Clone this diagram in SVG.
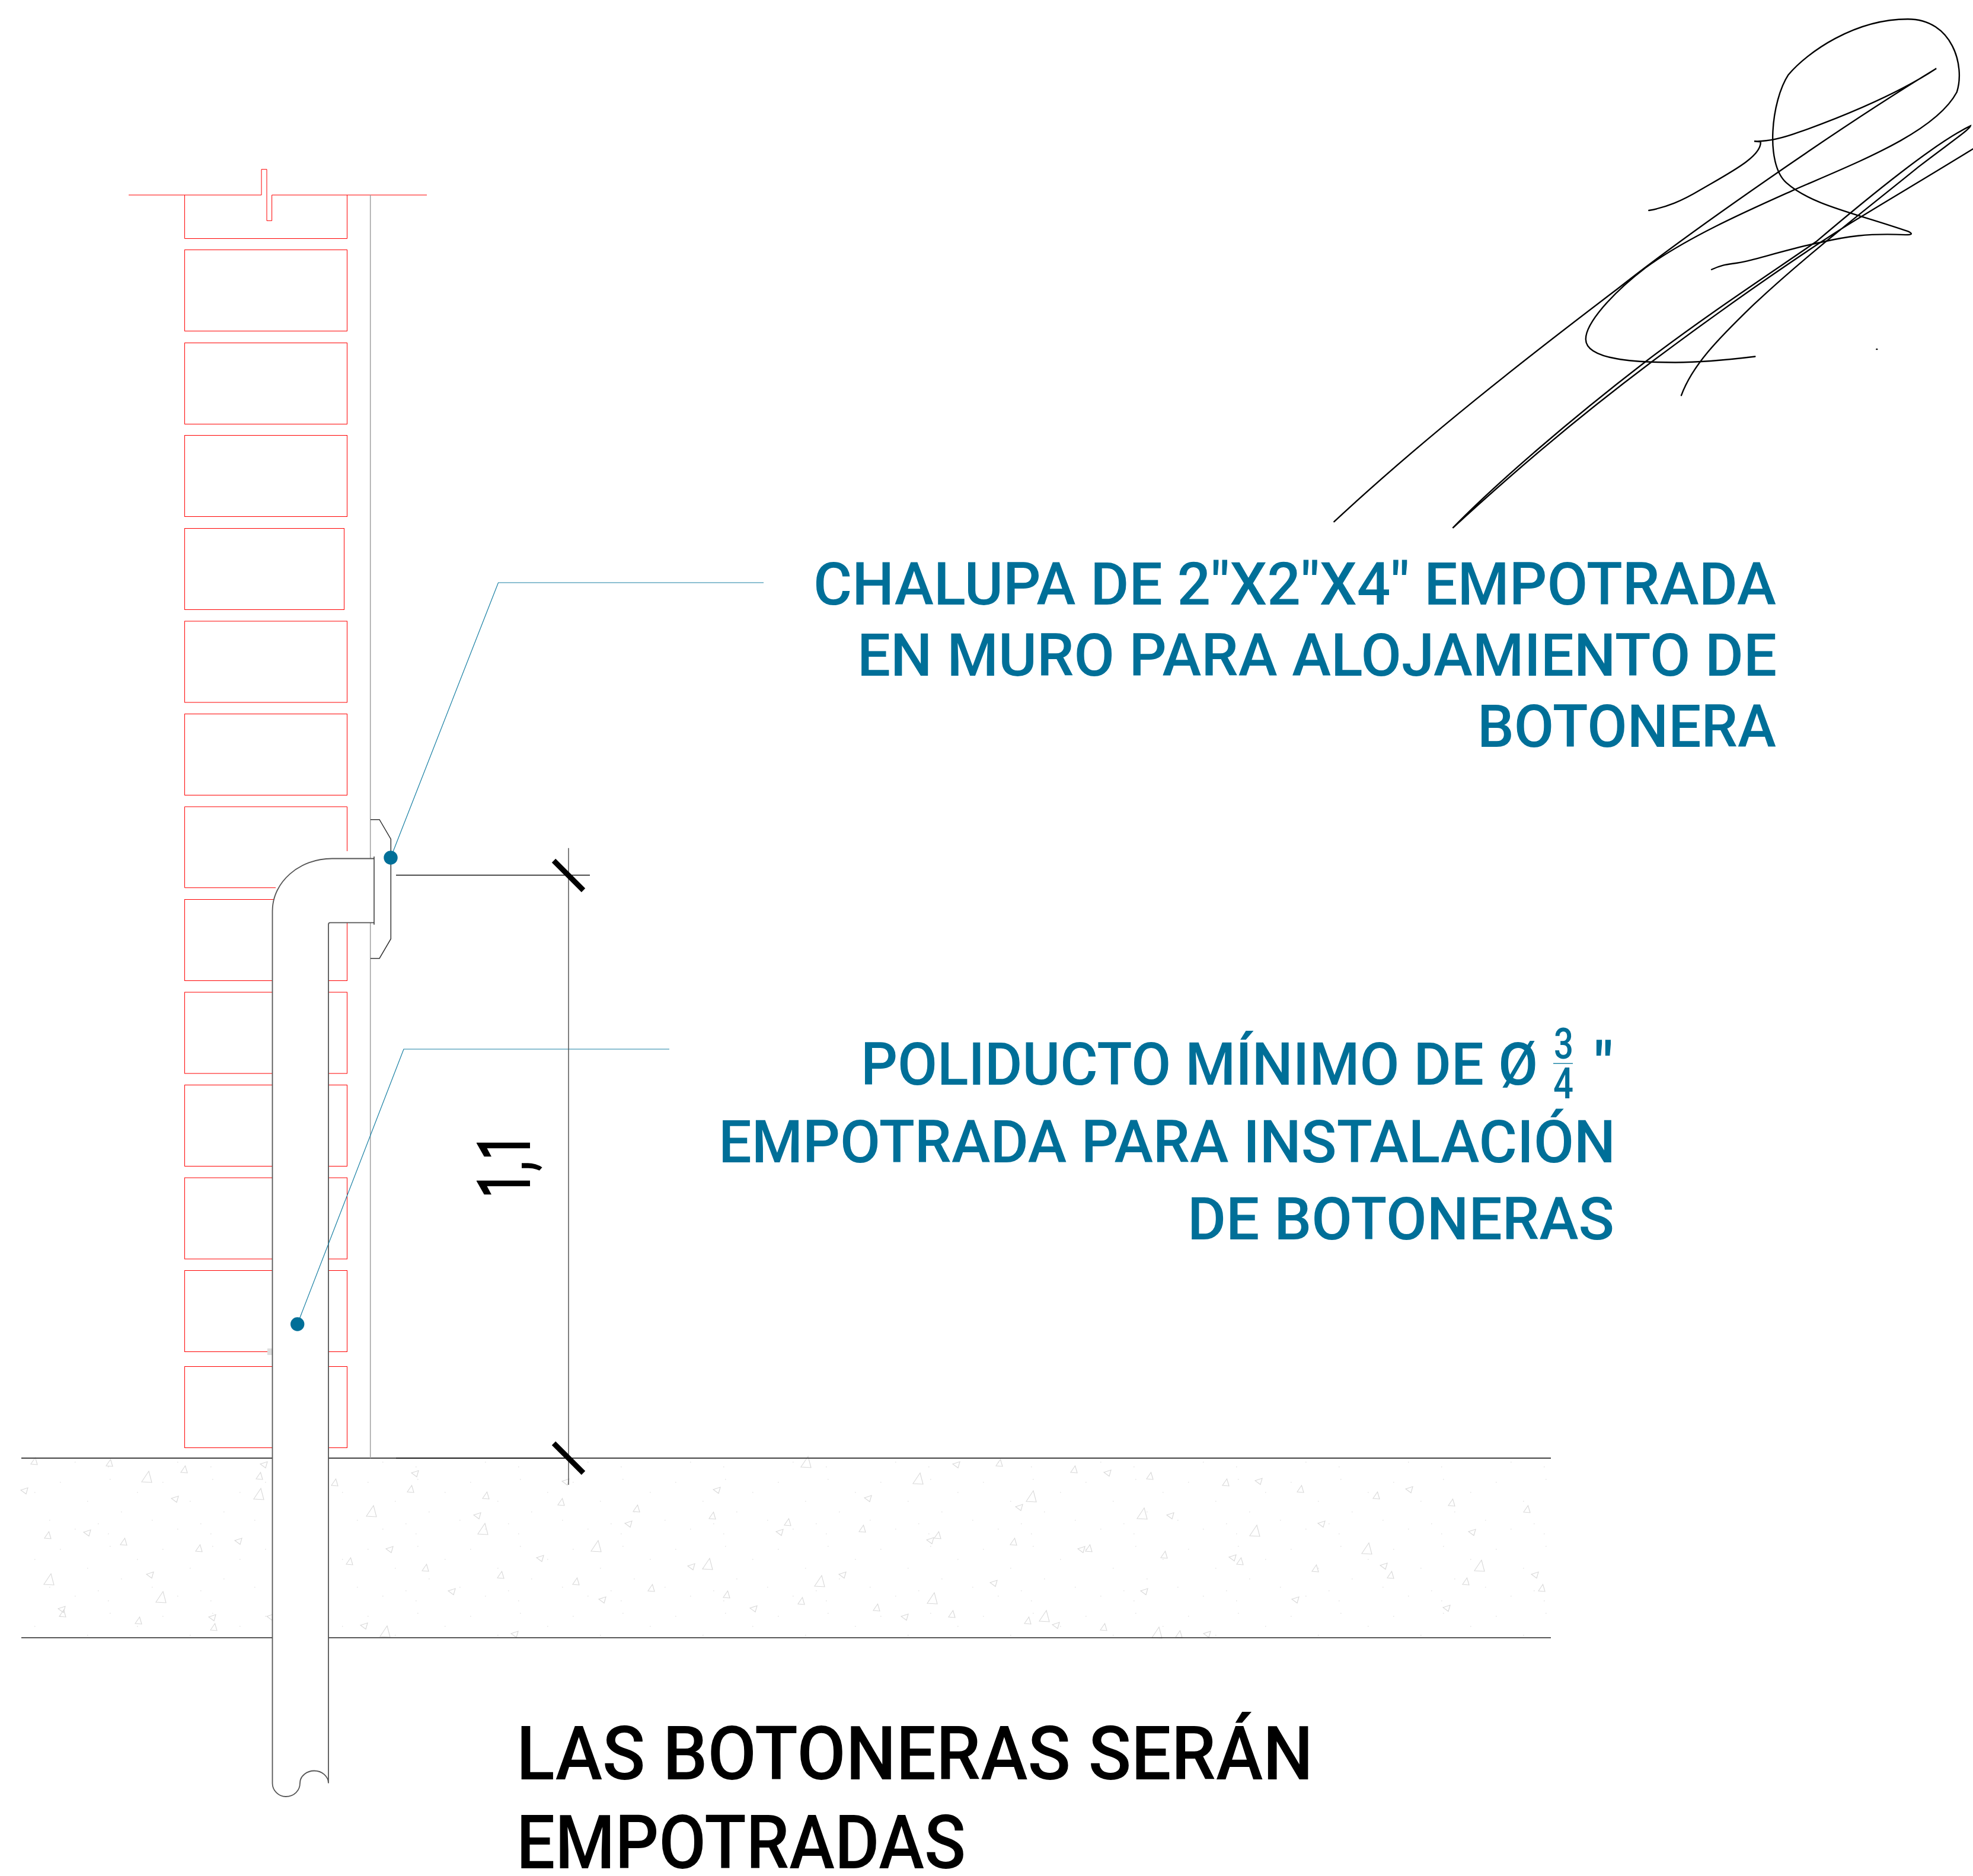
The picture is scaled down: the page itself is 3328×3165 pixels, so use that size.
<svg xmlns="http://www.w3.org/2000/svg" width="3328" height="3165" viewBox="0 0 3328 3165">
<style>
.red{fill:none;stroke:#ff0000;stroke-width:1}
.wall{fill:none;stroke:#a0a0a0;stroke-width:1.5}
.dark{fill:none;stroke:#333;stroke-width:1.5}
.pipe{fill:#fff;stroke:#555;stroke-width:1.8}
.hatch{fill:none;stroke:#d8d8d8;stroke-width:1.1}
.lead{fill:none;stroke:#1a80a4;stroke-width:1.2}
.dim{fill:none;stroke:#555;stroke-width:1.5}
.tick{stroke:#000;stroke-width:9;fill:none}
.dot{fill:#006f98}
.sig{fill:none;stroke:#000;stroke-width:2.4;vector-effect:non-scaling-stroke;stroke-linecap:round}
.t{font-family:"Roboto","Liberation Sans",sans-serif;font-size:100px;font-weight:500;fill:#006f98}
.b{font-family:"Roboto","Liberation Sans",sans-serif;font-size:126px;font-weight:500;fill:#000}
</style>
<defs>
<polygon id="a" class="hatch" points="2.5,-6 -5,5 6,6"/>
<polygon id="A" class="hatch" points="4,-10 -8,8 9,9"/>
<polygon id="c" class="hatch" points="-6,-1 6,-5 3,5.5"/>
<pattern id="specks" width="173" height="113" patternUnits="userSpaceOnUse">
<g fill="#e4e4e4"><rect x="12" y="9" width="1.5" height="1.5"/><rect x="58" y="31" width="1.5" height="1.5"/><rect x="101" y="14" width="1.5" height="1.5"/><rect x="147" y="46" width="1.5" height="1.5"/><rect x="31" y="64" width="1.5" height="1.5"/><rect x="83" y="78" width="1.5" height="1.5"/><rect x="126" y="93" width="1.5" height="1.5"/><rect x="9" y="101" width="1.5" height="1.5"/><rect x="165" y="84" width="1.5" height="1.5"/></g>
</pattern>
</defs>
<rect width="3328" height="3165" fill="#fff"/>

<g id="wall-bricks">
<path class="red" d="M217 329H441V285.7H450V372.3H458.6V329H720"/>
<path class="red" d="M311.5 329V402.5H585.5V329"/>
<rect class="red" x="311.5" y="421.5" width="274" height="137"/>
<rect class="red" x="311.5" y="578.5" width="274" height="137"/>
<rect class="red" x="311.5" y="734.5" width="274" height="137"/>
<rect class="red" x="311.5" y="891.5" width="269" height="137"/>
<rect class="red" x="311.5" y="1048" width="274" height="137"/>
<rect class="red" x="311.5" y="1204.5" width="274" height="137"/>
<path class="red" d="M585.5 1436V1361H311.5V1497.7H465"/>
<rect class="red" x="311.5" y="1517.5" width="274" height="137"/>
<rect class="red" x="311.5" y="1674" width="274" height="137"/>
<rect class="red" x="311.5" y="1830.5" width="274" height="137"/>
<rect class="red" x="311.5" y="1987" width="274" height="137"/>
<rect class="red" x="311.5" y="2143.5" width="274" height="137"/>
<rect class="red" x="311.5" y="2305.5" width="274" height="137"/>
<rect x="451" y="2275" width="8" height="11" fill="#dedede"/>
</g>

<g id="floor-slab">
<rect x="36" y="2461" width="2580" height="302" fill="url(#specks)"/>
<use href="#a" x="57" y="2465"/><use href="#a" x="184" y="2468"/><use href="#a" x="310" y="2479"/><use href="#a" x="437" y="2490"/><use href="#a" x="564" y="2501"/><use href="#a" x="692" y="2512"/><use href="#a" x="819" y="2523"/><use href="#a" x="946" y="2534"/><use href="#a" x="80" y="2590"/><use href="#a" x="208" y="2601"/><use href="#a" x="335" y="2612"/><use href="#a" x="589" y="2634"/><use href="#a" x="717" y="2645"/><use href="#a" x="844" y="2657"/><use href="#a" x="971" y="2668"/><use href="#a" x="105" y="2722"/><use href="#a" x="233" y="2734"/><use href="#a" x="360" y="2745"/>
<use href="#A" x="247" y="2492"/><use href="#A" x="436" y="2521"/><use href="#A" x="626" y="2550"/><use href="#A" x="814" y="2580"/><use href="#A" x="82" y="2665"/><use href="#A" x="271" y="2695"/><use href="#A" x="649" y="2753"/>
<use href="#c" x="445" y="2471"/><use href="#c" x="700" y="2486"/><use href="#c" x="41" y="2515"/><use href="#c" x="295" y="2529"/><use href="#c" x="805" y="2557"/><use href="#c" x="147" y="2586"/><use href="#c" x="402" y="2600"/><use href="#c" x="657" y="2614"/><use href="#c" x="911" y="2629"/><use href="#c" x="253" y="2657"/><use href="#c" x="762" y="2685"/><use href="#c" x="104" y="2715"/><use href="#c" x="358" y="2729"/><use href="#c" x="614" y="2743"/><use href="#c" x="868" y="2757"/><use href="#c" x="954" y="2500"/><use href="#c" x="456" y="2728"/>
<use href="#a" x="1685" y="2468"/><use href="#a" x="1811" y="2479"/><use href="#a" x="1939" y="2490"/><use href="#a" x="2067" y="2501"/><use href="#a" x="2193" y="2512"/><use href="#a" x="2321" y="2523"/><use href="#a" x="2448" y="2535"/><use href="#a" x="2575" y="2546"/><use href="#a" x="1073" y="2545"/><use href="#a" x="1201" y="2557"/><use href="#a" x="1328" y="2568"/><use href="#a" x="1454" y="2579"/><use href="#a" x="1581" y="2590"/><use href="#a" x="1709" y="2601"/><use href="#a" x="1836" y="2612"/><use href="#a" x="1963" y="2623"/><use href="#a" x="2091" y="2634"/><use href="#a" x="2218" y="2646"/><use href="#a" x="2345" y="2657"/><use href="#a" x="2472" y="2668"/><use href="#a" x="2600" y="2679"/><use href="#a" x="1098" y="2679"/><use href="#a" x="1225" y="2690"/><use href="#a" x="1351" y="2701"/><use href="#a" x="1478" y="2712"/><use href="#a" x="1605" y="2723"/><use href="#a" x="1733" y="2734"/><use href="#a" x="1861" y="2745"/><use href="#a" x="1988" y="2757"/>
<use href="#A" x="1359" y="2467"/><use href="#A" x="1548" y="2495"/><use href="#A" x="1739" y="2525"/><use href="#A" x="1926" y="2554"/><use href="#A" x="2116" y="2583"/><use href="#A" x="2305" y="2613"/><use href="#A" x="2495" y="2642"/><use href="#A" x="1005" y="2609"/><use href="#A" x="1193" y="2639"/><use href="#A" x="1382" y="2668"/><use href="#A" x="1572" y="2697"/><use href="#A" x="1761" y="2727"/><use href="#A" x="1951" y="2755"/>
<use href="#c" x="1613" y="2471"/><use href="#c" x="1868" y="2485"/><use href="#c" x="2123" y="2499"/><use href="#c" x="2377" y="2513"/><use href="#c" x="1209" y="2514"/><use href="#c" x="1464" y="2528"/><use href="#c" x="1719" y="2543"/><use href="#c" x="1974" y="2557"/><use href="#c" x="2229" y="2571"/><use href="#c" x="2483" y="2585"/><use href="#c" x="1060" y="2571"/><use href="#c" x="1315" y="2585"/><use href="#c" x="1569" y="2599"/><use href="#c" x="1824" y="2614"/><use href="#c" x="2079" y="2628"/><use href="#c" x="2334" y="2642"/><use href="#c" x="2589" y="2657"/><use href="#c" x="1166" y="2643"/><use href="#c" x="1421" y="2657"/><use href="#c" x="1676" y="2671"/><use href="#c" x="1930" y="2685"/><use href="#c" x="2185" y="2699"/><use href="#c" x="2440" y="2713"/><use href="#c" x="1016" y="2699"/><use href="#c" x="1271" y="2714"/><use href="#c" x="1526" y="2728"/><use href="#c" x="1781" y="2742"/><use href="#c" x="2036" y="2757"/>
<path d="M36 2460H2616" fill="none" stroke="#444" stroke-width="2"/>
<path d="M36 2763H2616" fill="none" stroke="#222" stroke-width="1.5"/>
</g>

<g id="wall-finish"><path class="wall" d="M624.7 329V2460"/></g>

<g id="conduit">
<path class="pipe" d="M631 1448.5H560C505 1448.5 459.5 1488 459.5 1537V3008.5C459.5 3021 470 3031 482 3031C496 3031 506 3021 506 3008C506 2996 518 2987.5 530 2987.5C543 2987.5 554 2997 554 3008.5V1560Q554 1556.7 557 1556.7H631"/>
</g>

<g id="chalupa">
<path class="dark" d="M625 1382.7H640L659.3 1415.7V1584L640 1617H625"/>
<path class="dark" d="M631 1445V1560"/>
</g>

<g id="connectors">
<path class="lead" d="M659 1447L840.5 983H1288"/>
<path class="lead" d="M501.7 2234L681 1770H1129"/>
<path d="M668 1476.5H995" fill="none" stroke="#111" stroke-width="1.3"/>
<path class="dim" d="M959 1430.7V2505"/>
<path d="M668 2460H959" fill="none" stroke="#111" stroke-width="1.6"/>
<path class="tick" d="M934 1452L984 1502"/>
<path class="tick" d="M934 2435L984 2485"/>
</g>

<g id="dot-chalupa"><circle class="dot" cx="659" cy="1447" r="11.7"/></g>
<g id="dot-poliducto"><circle class="dot" cx="501.7" cy="2234" r="11.7"/></g>

<g id="label-chalupa">
<text class="t" x="1372" y="1020" textLength="1624" lengthAdjust="spacingAndGlyphs">CHALUPA DE 2"X2"X4" EMPOTRADA</text>
<text class="t" x="1446" y="1140" textLength="1551" lengthAdjust="spacingAndGlyphs">EN MURO PARA ALOJAMIENTO DE</text>
<text class="t" x="2492" y="1260" textLength="504" lengthAdjust="spacingAndGlyphs">BOTONERA</text>
</g>

<g id="label-poliducto">
<text class="t" x="1452" y="1830" textLength="1142" lengthAdjust="spacingAndGlyphs">POLIDUCTO MÍNIMO DE Ø</text>
<text class="t" style="font-size:72px" x="2621" y="1786" textLength="33" lengthAdjust="spacingAndGlyphs">3</text>
<path d="M2620 1794.3H2653" fill="none" stroke="#1f86a8" stroke-width="1.5"/>
<text class="t" style="font-size:72px" x="2620" y="1853" textLength="34" lengthAdjust="spacingAndGlyphs">4</text>
<text class="t" style="font-weight:700" x="2690" y="1830" textLength="30" lengthAdjust="spacingAndGlyphs">"</text>
<text class="t" x="1212" y="1961" textLength="1513" lengthAdjust="spacingAndGlyphs">EMPOTRADA PARA INSTALACIÓN</text>
<text class="t" x="2003" y="2091" textLength="720" lengthAdjust="spacingAndGlyphs">DE BOTONERAS</text>
</g>

<g id="label-dimension">
<text class="b" transform="translate(894,2022) rotate(-90)" textLength="110" lengthAdjust="spacingAndGlyphs">1,1</text>
</g>

<g id="label-note">
<text class="b" x="871" y="3002" textLength="1344" lengthAdjust="spacingAndGlyphs">LAS BOTONERAS SERÁN</text>
<text class="b" x="871" y="3152" textLength="758" lengthAdjust="spacingAndGlyphs">EMPOTRADAS</text>
</g>

<g id="signature" transform="translate(2200,0) scale(0.7194,0.5868)">
<path class="sig" d="M70 1500C280 1260 520 1030 735 830C900 670 1250 370 1482 197C1380 280 1230 350 1160 380C1120 398 1085 408 1055 406L1070 408C1072 450 1000 495 930 545C885 578 850 596 808 605"/>
<path class="sig" d="M1057 1025C990 1035 930 1042 870 1042C780 1042 660 1035 660 975C660 930 720 845 800 770C900 680 1050 600 1150 545C1300 465 1480 380 1530 265C1550 190 1520 55 1415 55C1290 55 1180 150 1135 215C1095 290 1080 470 1130 525C1190 590 1290 612 1415 665C1428 672 1425 675 1410 675C1320 670 1270 680 1210 697C1150 712 1080 738 1040 750C1000 762 990 755 955 775"/>
<path class="sig" d="M1568 428C1480 495 1390 560 1310 620C1200 700 1000 870 815 1040C620 1220 480 1370 348 1518C450 1390 620 1210 800 1040C950 900 1100 780 1200 695C1330 560 1480 410 1562 362C1560 372 1520 405 1440 480C1330 590 1180 730 1050 880C970 975 910 1050 884 1137"/>
<path class="sig" d="M1342 1004h1"/>
</g>
</svg>
